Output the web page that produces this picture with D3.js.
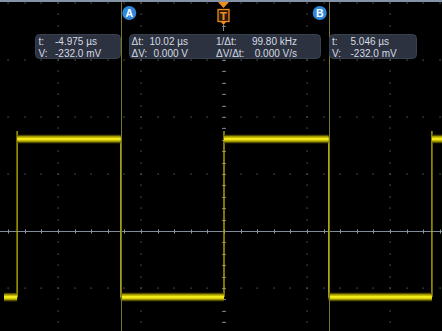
<!DOCTYPE html>
<html><head><meta charset="utf-8">
<script src="https://cdn.jsdelivr.net/npm/d3@7"></script>
<style>html,body{margin:0;padding:0;background:#000;}svg{display:block;}</style>
</head><body>
<script>
// ---- data (time in µs, voltage in mV) ----
const xMajorTicks = [-8, -4, 0, 4, 8];          // 4 µs/div
const yMajorTicks = [800, 600, 400, 200, 0, -200]; // 200 mV/div
const edgeTimes = [-9.97, -4.975, 0, 5.046, 10.02]; // square-wave transitions
const edgeDirs = ["up", "down", "up", "down", "up"];
const lowLevel = -232;
const highLevel = 323;
const overshootLevel = 351;
const traceStart = -10.7, traceEnd = 10.7;
const cursorTimes = [-4.975, 5.046];
const cursorNames = ["A", "B"];
const triggerTime = 0;
const readoutA = [["t:", "-4.975 µs"], ["V:", "-232.0 mV"]];
const readoutB = [["t:", "5.046 µs"], ["V:", "-232.0 mV"]];
const readoutDelta = [["Δt:", "10.02 µs", "1/Δt:", "99.80 kHz"], ["ΔV:", "0.000 V", "ΔV/Δt:", "0.000 V/s"]];

const W = 442, H = 331;
const x = d3.scaleLinear().domain([-8, 8]).range([58, 390]);
const y = d3.scaleLinear().domain([-200, 800]).range([288, 3]);

const svg = d3.select("body").append("svg").attr("width", W).attr("height", H);
svg.append("rect").attr("width", W).attr("height", H).attr("fill", "#000");

// minor positions
const xMinor = d3.range(-13.6, 13.7, 0.8).map(v => +v.toFixed(2));
const yMinor = d3.range(-360, 820, 40);

const grid = svg.append("g");
// dotted rows
yMajorTicks.filter(v => v !== 0).forEach(v => {
  grid.selectAll(null).data(xMinor).enter().append("rect")
    .attr("x", d => Math.round(x(d)) - 0.5).attr("y", Math.round(y(v)) - 0.5)
    .attr("width", 1.2).attr("height", 1.2).attr("fill", "#596170");
});
// dotted columns
xMajorTicks.forEach(v => {
  grid.selectAll(null).data(yMinor).enter().append("rect")
    .attr("x", Math.round(x(v)) - 0.5).attr("y", d => Math.round(y(d)) - 0.5)
    .attr("width", 1.2).attr("height", 1.2).attr("fill", "#596170");
});
// center horizontal line (0 V)
grid.append("line").attr("x1", 0).attr("x2", W).attr("y1", y(0) + 0.5).attr("y2", y(0) + 0.5)
  .attr("stroke", "#7f8a9a").attr("stroke-width", 1);
grid.selectAll(null).data(xMinor).enter().append("line")
  .attr("x1", d => Math.round(x(d)) + 0.5).attr("x2", d => Math.round(x(d)) + 0.5)
  .attr("y1", y(0) - 1.5).attr("y2", y(0) + 2.5).attr("stroke", "#8d98a8").attr("stroke-width", 1);
// center vertical ticks (trigger time)
grid.selectAll(null).data(yMinor).enter().append("line")
  .attr("x1", x(0) - 2).attr("x2", x(0) + 2)
  .attr("y1", d => Math.round(y(d)) + 0.5).attr("y2", d => Math.round(y(d)) + 0.5)
  .attr("stroke", "#6d7786").attr("stroke-width", 1);
// top border
svg.append("line").attr("x1", 0).attr("x2", W).attr("y1", 1).attr("y2", 1)
  .attr("stroke", "#8493a8").attr("stroke-width", 2);

// ---- waveform ----
const bounds = [traceStart, ...edgeTimes, traceEnd];
const segs = [];
let level = edgeDirs[0] === "up" ? lowLevel : highLevel;
for (let i = 0; i < bounds.length - 1; i++) {
  segs.push({ t0: bounds[i], t1: bounds[i + 1], v: level });
  if (i < edgeTimes.length) level = edgeDirs[i] === "up" ? highLevel : lowLevel;
}
const trace = svg.append("g");
// vertical edges
trace.selectAll(null).data(edgeTimes.map((t, i) => ({ t, dir: edgeDirs[i] }))).enter().append("line")
  .attr("x1", d => x(d.t)).attr("x2", d => x(d.t))
  .attr("y1", d => d.dir === "up" ? y(overshootLevel) : y(highLevel))
  .attr("y2", y(lowLevel))
  .attr("stroke", "#bdb400").attr("stroke-width", 1.3);
// horizontal levels: halo, body, core
[["#5e5800", 8.5, 0.9], ["#b9ae00", 5.5, 1], ["#f3ea1c", 2.6, 1]].forEach(([c, w, o]) => {
  trace.selectAll(null).data(segs).enter().append("line")
    .attr("x1", d => Math.max(4, x(d.t0))).attr("x2", d => Math.min(W, x(d.t1)))
    .attr("y1", d => y(d.v)).attr("y2", d => y(d.v))
    .attr("stroke", c).attr("stroke-width", w).attr("opacity", o);
});

// ---- cursors ----
svg.selectAll(null).data(cursorTimes).enter().append("line")
  .attr("x1", d => Math.round(x(d)) + 0.5).attr("x2", d => Math.round(x(d)) + 0.5)
  .attr("y1", 2).attr("y2", H).attr("stroke", "#7a772c").attr("stroke-width", 1);
const lab = svg.selectAll(null).data(cursorTimes).enter().append("g")
  .attr("transform", (d, i) => `translate(${x(d) + (i === 0 ? 8.5 : -9)},13)`);
lab.append("circle").attr("r", 7).attr("fill", "#2f88dc");
lab.append("text").text((d, i) => cursorNames[i]).attr("text-anchor", "middle").attr("dy", 3.6)
  .attr("fill", "#fff").attr("font-family", "Liberation Sans, Arial, sans-serif").attr("font-weight", "bold").attr("font-size", 10.5);

// ---- trigger marker ----
const tx = x(triggerTime) - 0.5;
const tg = svg.append("g").attr("fill", "#ee8a1e");
tg.append("path").attr("d", `M${tx - 5.5},2 L${tx + 5.5},2 L${tx},8 Z`);
tg.append("rect").attr("x", tx - 5.5).attr("y", 9.5).attr("width", 11).attr("height", 12)
  .attr("fill", "#2a1a08").attr("stroke", "#ee8a1e").attr("stroke-width", 1.3);
tg.append("text").text("T").attr("x", tx).attr("y", 19.5).attr("text-anchor", "middle")
  .attr("font-family", "DejaVu Sans, sans-serif").attr("font-weight", "bold").attr("font-size", 10).attr("fill", "#ee8a1e");
tg.append("path").attr("d", `M${tx - 3},21.5 L${tx + 3},21.5 L${tx},25 Z`);
svg.append("line").attr("x1", tx).attr("x2", tx).attr("y1", 25).attr("y2", 31).attr("stroke", "#7f8a9a");

// ---- readouts ----
const font = "Liberation Sans, Arial, sans-serif";
function box(x0, x1) {
  svg.append("rect").attr("x", x0 + 0.5).attr("y", 34.5).attr("width", x1 - x0).attr("height", 24)
    .attr("rx", 4).attr("fill", "#2c3240").attr("stroke", "#394150").attr("stroke-width", 1);
}
function txt(s, xx, yy, anchor) {
  svg.append("text").text(s).attr("x", xx).attr("y", yy).attr("text-anchor", anchor || "start")
    .attr("font-family", font).attr("font-size", 10).attr("fill", "#d6dae2");
}
const rows = [45, 56.6];
box(35, 120);
readoutA.forEach((r, i) => { txt(r[0], 38.5, rows[i]); txt(r[1], 55, rows[i]); });
box(129, 320);
readoutDelta.forEach((r, i) => {
  txt(r[0], 131.5, rows[i]); txt(r[1], 188, rows[i], "end");
  txt(r[2], 216, rows[i]); txt(r[3], 297, rows[i], "end");
});
box(329, 416);
readoutB.forEach((r, i) => { txt(r[0], 332, rows[i]); txt(r[1], 350.5, rows[i]); });
</script>
</body></html>
